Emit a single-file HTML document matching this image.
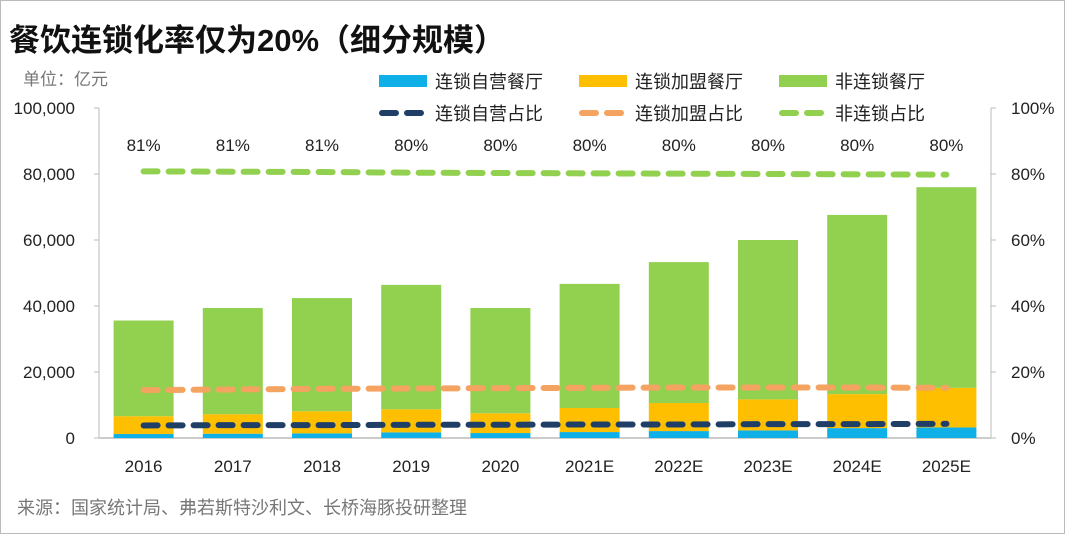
<!DOCTYPE html>
<html><head><meta charset="utf-8"><style>
body{margin:0;background:#fff;}
#wrap{position:relative;width:1063px;height:532px;border:1px solid #bbb;overflow:hidden;font-family:"Liberation Sans","Noto Sans CJK SC",sans-serif;}
.title{position:absolute;left:8px;top:14px;font-size:31px;font-weight:bold;color:#111;}
.unit{position:absolute;left:22px;top:64px;font-size:17px;color:#777;}
.foot{position:absolute;left:16px;top:493px;font-size:18px;color:#777;}
</style></head><body>
<div id="wrap">
<div class="title">餐饮连锁化率仅为20%（细分规模）</div>
<div class="unit">单位：亿元</div>
<svg id="chart" width="1065" height="534" style="position:absolute;left:0;top:0"></svg>
<div class="foot">来源：国家统计局、弗若斯特沙利文、长桥海豚投研整理</div>
</div>
<script>
const categories=["2016","2017","2018","2019","2020","2021E","2022E","2023E","2024E","2025E"];
const selfOp=[1200,1300,1400,1700,1500,1800,2100,2300,3000,3200];
const franchise=[5400,5900,6700,7000,6000,7300,8500,9400,10300,12000];
const nonChain=[29000,32200,34300,37700,31900,37600,42700,48300,54300,60800];
const selfPct=[3.8,3.9,3.9,4.0,4.0,4.1,4.1,4.2,4.2,4.3];
const franPct=[14.5,14.7,14.9,15.0,15.1,15.2,15.3,15.3,15.3,15.2];
const nonPct=[81,81,81,80,80,80,80,80,80,80];
const nonPctLine=[80.8,80.7,80.6,80.4,80.3,80.2,80.1,80.0,79.9,79.8];
const leftTicks=[0,20000,40000,60000,80000,100000];
const rightTicks=[0,20,40,60,80,100];
const svg=document.getElementById('chart');const NS="http://www.w3.org/2000/svg";
const X0=98,X1=990,Y0=437,Y1=107;
const y=v=>Y0-(v/100000)*(Y0-Y1);
const yp=p=>Y0-(p/100)*(Y0-Y1);
const step=(X1-X0)/categories.length;
const xc=i=>X0+step*(i+0.5);
function mk(t,a,txt){const e=document.createElementNS(NS,t);for(const k in a)e.setAttribute(k,a[k]);if(txt!==undefined)e.textContent=txt;svg.appendChild(e);return e;}
let e;
e=mk('line',{x1:X0,y1:Y1,x2:X0,y2:Y0,stroke:'#bbb'});


e=mk('line',{x1:X1,y1:Y1,x2:X1,y2:Y0,stroke:'#bbb'});


e=mk('line',{x1:X0,y1:Y0,x2:X1,y2:Y0,stroke:'#ccc','stroke-width':2});


leftTicks.forEach(v=>{mk('line',{x1:X0-5,y1:y(v),x2:X0,y2:y(v),stroke:'#bbb'});
e=mk('text',{x:X0-24,y:y(v)+6,'text-anchor':'end','font-size':17,fill:'#222'},v.toLocaleString('en-US'));

});
rightTicks.forEach(v=>{mk('line',{x1:X1,y1:yp(v),x2:X1+5,y2:yp(v),stroke:'#bbb'});
e=mk('text',{x:X1+20,y:yp(v)+6,'font-size':17,fill:'#222'},v+'%');

});
const bw=60;
categories.forEach((c,i)=>{
 const x=xc(i)-bw/2;let base=0;
 [[selfOp,'#0fb0e8','bar-self'],[franchise,'#fdbf00','bar-franchise'],[nonChain,'#92d050','bar-nonchain']].forEach(([arr,col,nm])=>{
  const t=base+arr[i];e=mk('rect',{x:x,y:y(t),width:bw,height:y(base)-y(t),fill:col});
  
  base=t;});
 e=mk('text',{x:xc(i),y:Y0+34,'text-anchor':'middle','font-size':17,fill:'#222'},c);
 
 
 e=mk('text',{x:xc(i),y:150,'text-anchor':'middle','font-size':17,fill:'#222'},nonPct[i]+'%');
 
 
});
function line(arr,col,nm){const pts=arr.map((p,i)=>xc(i)+','+yp(p)).join(' ');
 e=mk('polyline',{points:pts,fill:'none',stroke:col,'stroke-width':6,'stroke-dasharray':'14,11','stroke-linecap':'round'});
 
 }
line(selfPct,'#203f66','line-self-pct');line(franPct,'#f4a460','line-franchise-pct');line(nonPctLine,'#92d050','line-nonchain-pct');
const leg=[[378,80,'rect','#0fb0e8','连锁自营餐厅'],[578,80,'rect','#fdbf00','连锁加盟餐厅'],[778,80,'rect','#92d050','非连锁餐厅'],
[378,112,'dash','#203f66','连锁自营占比'],[578,112,'dash','#f4a460','连锁加盟占比'],[778,112,'dash','#92d050','非连锁占比']];
leg.forEach(([lx,ly,t,col,txt])=>{
 if(t==='rect')mk('rect',{x:lx,y:ly-6,width:48,height:12,fill:col});
 else mk('line',{x1:lx+3,y1:ly,x2:lx+46,y2:ly,stroke:col,'stroke-width':6,'stroke-dasharray':'14,11','stroke-linecap':'round'});
 e=mk('text',{x:lx+56,y:ly+7,'font-size':18,fill:'#222'},txt);
 
 });
</script>
</body></html>
